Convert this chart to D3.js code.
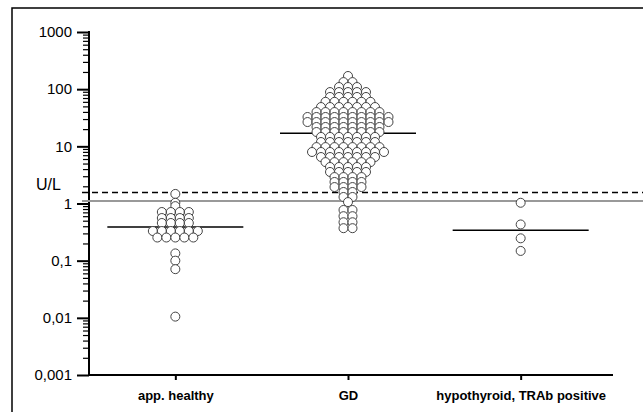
<!DOCTYPE html>
<html><head><meta charset="utf-8">
<script src="https://cdn.jsdelivr.net/npm/d3@7"></script>
<style>body{margin:0;background:#fff}svg{display:block}</style>
</head><body>
<svg id="c" width="643" height="412"></svg>
<script>
const categories = ["app. healthy", "GD", "hypothyroid, TRAb positive"];
const healthy = [1.47, 1.03, 0.90, 0.71, 0.71, 0.71, 0.71, 0.557, 0.557, 0.557, 0.557,
  0.456, 0.456, 0.456, 0.456, 0.33, 0.33, 0.33, 0.33, 0.33, 0.33,
  0.254, 0.254, 0.254, 0.254, 0.254, 0.134, 0.10, 0.071, 0.0105];
const gd = [170, 133, 133, 109, 109, 109,
  89, 89, 89, 89, 89, 73, 73, 73, 73, 73,
  60, 60, 60, 60, 60, 60, 48.7, 48.7, 48.7, 48.7, 48.7, 48.7, 48.7,
  39.8, 39.8, 39.8, 39.8, 39.8, 39.8, 39.8, 39.8,
  32.6, 32.6, 32.6, 32.6, 32.6, 32.6, 32.6, 32.6, 32.6, 32.6,
  26.6, 26.6, 26.6, 26.6, 26.6, 26.6, 26.6, 26.6, 26.6, 26.6,
  21.8, 21.8, 21.8, 21.8, 21.8, 21.8, 21.8, 21.8,
  17.8, 17.8, 17.8, 17.8, 17.8, 17.8, 17.8, 17.8,
  14.6, 14.6, 14.6, 14.6, 14.6, 14.6, 14.6,
  11.9, 11.9, 11.9, 11.9, 11.9, 11.9, 11.9,
  9.7, 9.7, 9.7, 9.7, 9.7, 9.7, 9.7, 9.7,
  7.96, 7.96, 7.96, 7.96, 7.96, 7.96, 7.96, 7.96, 7.96,
  6.5, 6.5, 6.5, 6.5, 6.5, 6.5, 6.5,
  5.3, 5.3, 5.3, 5.3, 5.3, 5.3,
  4.35, 4.35, 4.35, 4.35, 4.35, 3.56, 3.56, 3.56, 3.56, 3.56,
  2.9, 2.9, 2.9, 2.9, 2.38, 2.38, 2.38, 2.38, 1.94, 1.94, 1.94, 1.94,
  1.59, 1.59, 1.30, 1.30, 1.06, 0.77, 0.77, 0.60, 0.60, 0.47, 0.47, 0.37, 0.37];
const hypo = [1.03, 0.43, 0.246, 0.148];
const medians = [0.39, 17, 0.34];
const cutoffDashed = 1.56;
const cutoffGrey = 1.11;
const yTicks = [0.001, 0.01, 0.1, 1, 10, 100, 1000];
const yTickLabels = ["0,001", "0,01", "0,1", "1", "10", "100", "1000"];
const unitLabel = "U/L";

const groups = [healthy, gd, hypo];
const svg = d3.select("#c");
const font = "'Liberation Sans', Arial, sans-serif";
svg.append("rect").attr("width", 643).attr("height", 412).attr("fill", "#fff");

svg.append("path").attr("d", "M12,412V8H643").attr("fill", "none").attr("stroke", "#000").attr("stroke-width", 1.5);

const y = d3.scaleLog().domain([0.001, 1000]).range([375, 32]);
const x = d3.scalePoint().domain(categories).range([89, 607]).padding(0.5);

const minor = [];
for (let e = -3; e < 3; e++) for (let m = 2; m <= 9; m++) minor.push(m * Math.pow(10, e));
const gMinor = svg.append("g").attr("transform", "translate(89,0)")
  .call(d3.axisLeft(y).tickValues(minor).tickSize(6).tickFormat(""));
gMinor.select(".domain").remove();
gMinor.selectAll("line").attr("stroke", "#000").attr("stroke-width", 1.2);

const gY = svg.append("g").attr("transform", "translate(89,0)")
  .call(d3.axisLeft(y).tickValues(yTicks).tickSize(12).tickPadding(5)
    .tickFormat((d, i) => yTickLabels[i]));
gY.select(".domain").remove();
gY.selectAll("line").attr("stroke", "#000").attr("stroke-width", 2);
gY.selectAll("text").attr("font-family", font).attr("font-size", 15).attr("fill", "#000");
svg.append("line").attr("x1", 89).attr("x2", 89).attr("y1", y(1000) - 1).attr("y2", y(0.001) + 1)
  .attr("stroke", "#000").attr("stroke-width", 2);

svg.append("text").attr("x", 36).attr("y", 190).attr("font-family", font).attr("font-size", 16)
  .text(unitLabel);

svg.append("line").attr("x1", 82).attr("x2", 643).attr("y1", y(cutoffGrey)).attr("y2", y(cutoffGrey))
  .attr("stroke", "#999").attr("stroke-width", 2);
svg.append("line").attr("x1", 82).attr("x2", 643).attr("y1", y(cutoffDashed)).attr("y2", y(cutoffDashed))
  .attr("stroke", "#000").attr("stroke-width", 1.5).attr("stroke-dasharray", "6,4");

const gX = svg.append("g").attr("transform", `translate(0,${y(0.001)})`)
  .call(d3.axisBottom(x).tickSize(5).tickPadding(11));
gX.select(".domain").remove();
gX.selectAll("line").attr("stroke", "#000").attr("stroke-width", 2);
gX.selectAll("text").attr("font-family", font).attr("font-size", 13).attr("font-weight", "bold").attr("fill", "#000");
svg.append("line").attr("x1", 88).attr("x2", 613).attr("y1", y(0.001)).attr("y2", y(0.001))
  .attr("stroke", "#000").attr("stroke-width", 2);

// column-scatter layout: equal values share a row, centred on the category
const r = 4.5, step = 9;
function rows(vals) {
  const out = [];
  d3.group(vals, v => v).forEach((arr, v) => {
    arr.forEach((_, i) => out.push({ v, dx: (i - (arr.length - 1) / 2) * step }));
  });
  return out;
}

groups.forEach((vals, gi) => {
  const cx = x(categories[gi]);
  svg.append("line").attr("x1", cx - 68).attr("x2", cx + 68)
    .attr("y1", y(medians[gi])).attr("y2", y(medians[gi]))
    .attr("stroke", "#000").attr("stroke-width", 1.5);
  svg.append("g").selectAll("circle").data(rows(vals)).join("circle")
    .attr("cx", d => cx + d.dx).attr("cy", d => y(d.v)).attr("r", r)
    .attr("fill", "#fff").attr("stroke", "#444").attr("stroke-width", 1);
});
</script>
</body></html>
